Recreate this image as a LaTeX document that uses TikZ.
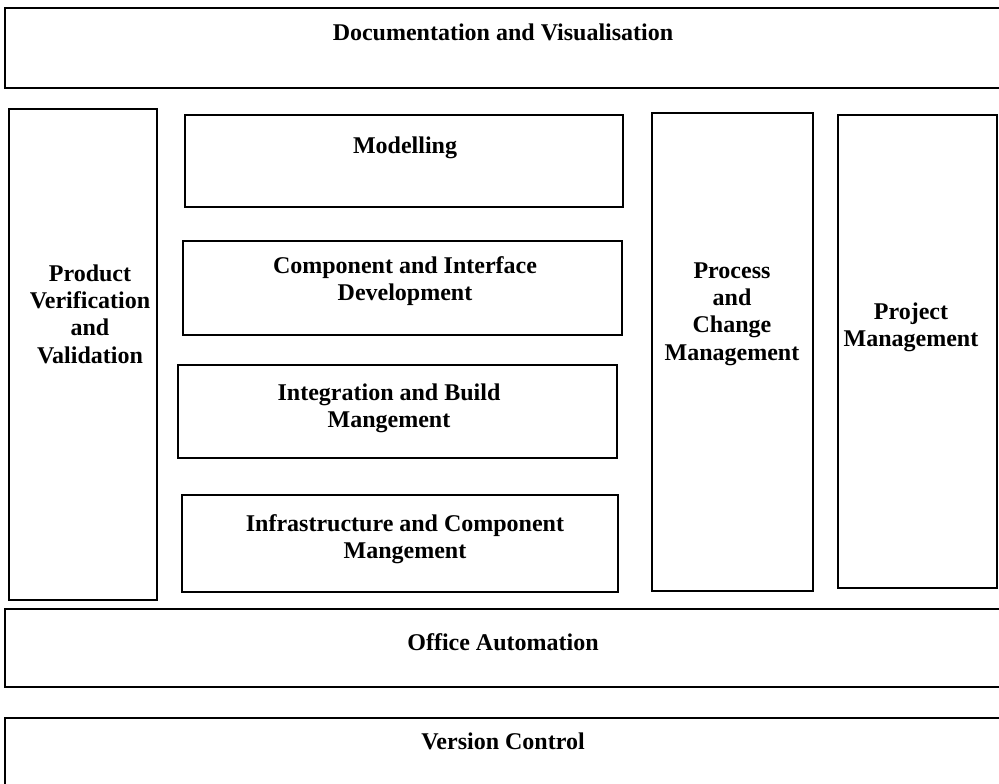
\documentclass[tikz,border=0pt]{standalone}
\usepackage{fontspec}
\setmainfont{Liberation Serif}
\usepackage{tikz}

\tikzset{
  blk/.style={line width=1.7pt},
  lbl/.style={inner sep=0.75pt, align=center, font=\bfseries\fontsize{18}{20.5}\selectfont}
}

\begin{document}
\begin{tikzpicture}[x=0.75pt,y=0.75pt,yscale=-1,xscale=1]
\useasboundingbox (0,0) rectangle (999,784);

%Shape: Rectangle [documentation]
\draw [blk] (5,8) -- (1006,8) -- (1006,88) -- (5,88) -- cycle ;
%Shape: Rectangle [verification]
\draw [blk] (9,109) -- (157,109) -- (157,600) -- (9,600) -- cycle ;
%Shape: Rectangle [modelling]
\draw [blk] (185,115) -- (623,115) -- (623,207) -- (185,207) -- cycle ;
%Shape: Rectangle [component]
\draw [blk] (183,241) -- (622,241) -- (622,335) -- (183,335) -- cycle ;
%Shape: Rectangle [integration]
\draw [blk] (178,365) -- (617,365) -- (617,458) -- (178,458) -- cycle ;
%Shape: Rectangle [infrastructure]
\draw [blk] (182,495) -- (618,495) -- (618,592) -- (182,592) -- cycle ;
%Shape: Rectangle [process]
\draw [blk] (652,113) -- (813,113) -- (813,591) -- (652,591) -- cycle ;
%Shape: Rectangle [project]
\draw [blk] (838,115) -- (997,115) -- (997,588) -- (838,588) -- cycle ;
%Shape: Rectangle [office]
\draw [blk] (5,609) -- (1006,609) -- (1006,687) -- (5,687) -- cycle ;
%Shape: Rectangle [version]
\draw [blk] (5,718) -- (1006,718) -- (1006,800) -- (5,800) -- cycle ;

% Text Node
\draw (503,32) node [lbl] (docvis) {Documentation and Visualisation};
% Text Node
\draw (90,314) node [lbl] (prodvv) {Product\\Verification\\and\\Validation};
% Text Node
\draw (405,148) node [lbl] (model) {Modelling};
% Text Node
\draw (405,281) node [lbl] (compint) {Component and Interface\\Development};
% Text Node
\draw (389,408) node [lbl] (intbuild) {Integration and Build\\Mangement};
% Text Node
\draw (405,539) node [lbl] (infracomp) {Infrastructure and Component\\Mangement};
% Text Node
\draw (732,314) node [lbl] (procchg) {Process\\and\\Change\\Management};
% Text Node
\draw (911,327) node [lbl] (projmgt) {Project\\Management};
% Text Node
\draw (503,642) node [lbl] (office) {Office Automation};
% Text Node
\draw (503,741) node [lbl] (version) {Version Control};
\end{tikzpicture}
\end{document}
